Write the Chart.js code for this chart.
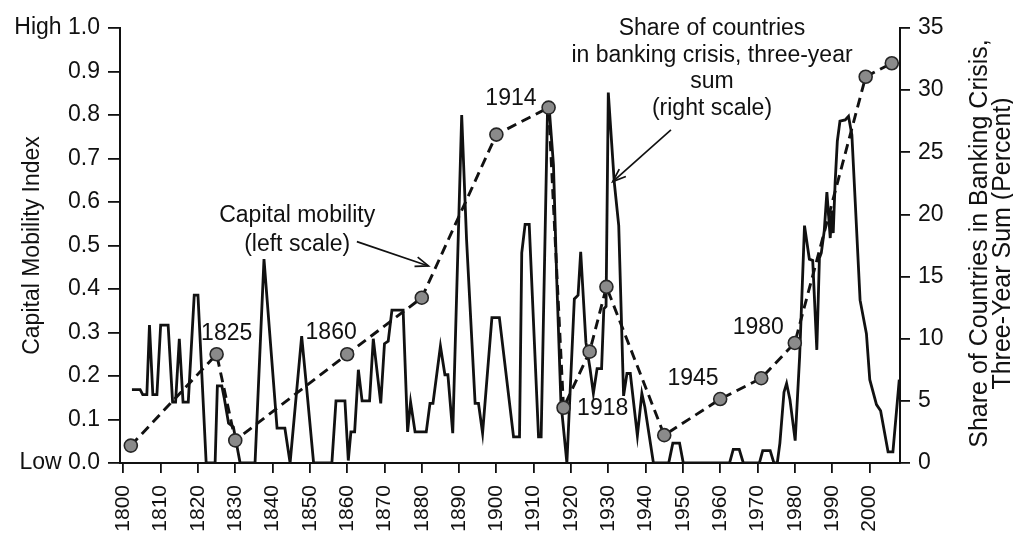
<!DOCTYPE html>
<html>
<head>
<meta charset="utf-8">
<title>Capital mobility and banking crises</title>
<script src="https://cdn.jsdelivr.net/npm/chart.js@4.4.1/dist/chart.umd.min.js"></script>
<style>
  html, body { margin: 0; padding: 0; background: #ffffff; }
  #wrap { width: 1013px; height: 534px; }
</style>
</head>
<body>
<div id="wrap"><canvas id="c" width="1013" height="534"></canvas></div>
<script>
// ---------------- DATA ----------------
// Capital mobility index (left scale, 0 = low, 1 = high)
const mobilityYears = [1802, 1825, 1830, 1860, 1880, 1900, 1914, 1918, 1925, 1929.5, 1945, 1960, 1971, 1980, 1999, 2006];
const mobilityIndex = [0.04, 0.25, 0.052, 0.25, 0.38, 0.755, 0.817, 0.127, 0.256, 0.405, 0.064, 0.147, 0.195, 0.276, 0.888, 0.919];

// Share of countries in banking crisis, three-year sum (right scale, percent)
const crisisYears = [
  1802.3, 1804.5, 1805.2, 1806.3, 1807.0, 1807.9, 1809.0, 1810.0, 1812.0, 1813.2,
  1814.0, 1815.0, 1816.0, 1817.4, 1819.0, 1820.0, 1822.2, 1824.6, 1825.2, 1826.4,
  1827.0, 1828.2, 1829.5, 1831.3, 1835.3, 1837.7, 1841.2, 1843.3, 1844.7, 1847.8,
  1849.3, 1851.0, 1855.9, 1857.0, 1859.4, 1860.3, 1861.0, 1862.0, 1863.0, 1864.0,
  1866.0, 1867.0, 1869.0, 1870.0, 1871.0, 1872.0, 1875.0, 1876.2, 1877.0, 1878.2,
  1881.2, 1882.2, 1883.0, 1885.0, 1886.2, 1887.0, 1888.3, 1890.7, 1892.0, 1894.3,
  1895.2, 1896.3, 1898.8, 1900.8, 1904.6, 1906.2, 1906.8, 1907.7, 1908.8, 1911.3,
  1912.0, 1913.7, 1914.3, 1915.3, 1916.2, 1917.3, 1918.9, 1920.9, 1921.9, 1922.6,
  1924.0, 1925.1, 1926.0, 1927.0, 1928.2, 1928.8, 1929.4, 1930.0, 1931.6, 1932.8,
  1934.1, 1935.0, 1935.9, 1937.8, 1939.0, 1939.8, 1942.1, 1946.2, 1947.3, 1949.1,
  1950.1, 1962.5, 1963.5, 1965.1, 1966.2, 1970.5, 1971.4, 1973.4, 1974.4, 1975.3,
  1976.0, 1977.1, 1977.8, 1978.7, 1980.1, 1981.3, 1982.6, 1983.9, 1984.8, 1985.9,
  1986.6, 1987.1, 1987.9, 1988.6, 1989.5, 1989.9, 1990.3, 1990.8, 1991.4, 1992.1,
  1993.5, 1994.4, 1995.3, 1996.2, 1997.5, 1999.2, 2000.1, 2001.9, 2003.0, 2005.0,
  2006.3, 2008.0
];
const crisisShare = [
  5.9, 5.9, 5.5, 5.5, 11.1, 5.5, 5.5, 11.1, 11.1, 4.9,
  4.9, 10.0, 4.9, 4.9, 13.5, 13.5, 0, 0, 6.2, 6.2,
  5.3, 3.2, 2.9, 0, 0, 16.4, 2.8, 2.8, 0, 10.2,
  5.5, 0, 0, 5.0, 5.0, 0.2, 2.5, 2.5, 7.5, 5.0,
  5.0, 10.0, 4.8, 9.6, 9.8, 12.3, 12.3, 2.5, 4.9, 2.5,
  2.5, 4.8, 4.8, 9.4, 7.1, 7.1, 2.4, 28.0, 18.0, 4.8,
  4.8, 2.4, 11.7, 11.7, 2.1, 2.1, 16.9, 19.2, 19.2, 2.1,
  2.1, 28.3, 28.0, 24.0, 14.6, 4.9, 0, 13.2, 13.5, 17.0,
  9.7, 7.6, 5.6, 7.6, 7.6, 12.4, 12.6, 29.8, 22.6, 19.1,
  5.4, 7.2, 7.2, 2.2, 5.6, 4.5, 0, 0, 1.6, 1.6,
  0, 0, 1.1, 1.1, 0, 0, 1.0, 1.0, 0, 0,
  1.6, 5.7, 6.4, 5.1, 1.8, 8.6, 19.1, 16.4, 16.3, 9.1,
  16.5, 16.9, 18.7, 21.8, 18.1, 20.3, 18.5, 22.5, 25.9, 27.5,
  27.6, 27.9, 26.4, 21.0, 13.1, 10.4, 6.7, 4.7, 4.2, 0.9,
  0.9, 6.7
];

// Tick values and labels
const xTickYears = [1800, 1810, 1820, 1830, 1840, 1850, 1860, 1870, 1880, 1890, 1900, 1910, 1920, 1930, 1940, 1950, 1960, 1970, 1980, 1990, 2000];
const leftTickValues = [0, 0.1, 0.2, 0.3, 0.4, 0.5, 0.6, 0.7, 0.8, 0.9, 1.0];
const leftTickLabels = ['Low 0.0', '0.1', '0.2', '0.3', '0.4', '0.5', '0.6', '0.7', '0.8', '0.9', 'High 1.0'];
const rightTickValues = [0, 5, 10, 15, 20, 25, 30, 35];

// Text annotations (anchored in data units: year, left-scale value)
const yearNotes = [
  { text: '1825', year: 1827.7, value: 0.297 },
  { text: '1860', year: 1855.7, value: 0.299 },
  { text: '1914', year: 1903.9, value: 0.837 },
  { text: '1918', year: 1928.5, value: 0.126 },
  { text: '1945', year: 1952.7, value: 0.195 },
  { text: '1980', year: 1970.2, value: 0.310 }
];
const mobilityNote = { lines: ['Capital mobility', '(left scale)'], year: 1846.6, value: 0.568 };
const crisisNote = { lines: ['Share of countries', 'in banking crisis, three-year', 'sum', '(right scale)'], year: 1957.8, value: 0.998 };
const mobilityArrow = { from: [1862.6, 0.509], to: [1881.8, 0.453] };
const crisisArrow = { from: [1946.8, 0.766], to: [1931.2, 0.647] };
const rightTitleLines = ['Share of Countries in Banking Crisis,', 'Three-Year Sum (Percent)'];

// ---------------- CHART ----------------
const FONT = '"Liberation Sans", Arial, Helvetica, sans-serif';
const INK = '#111111';

function drawArrow(ctx, x1, y1, x2, y2) {
  const ang = Math.atan2(y2 - y1, x2 - x1);
  const len = 14, spread = 0.36;
  ctx.beginPath();
  ctx.moveTo(x1, y1);
  ctx.lineTo(x2, y2);
  ctx.stroke();
  ctx.beginPath();
  ctx.moveTo(x2 - len * Math.cos(ang - spread), y2 - len * Math.sin(ang - spread));
  ctx.lineTo(x2, y2);
  ctx.lineTo(x2 - len * Math.cos(ang + spread), y2 - len * Math.sin(ang + spread));
  ctx.stroke();
}

const notesPlugin = {
  id: 'notes',
  afterDraw(chart) {
    const { ctx, scales } = chart;
    const x = scales.x, yL = scales.yL;
    ctx.save();
    ctx.fillStyle = INK;
    ctx.strokeStyle = INK;
    ctx.textAlign = 'center';
    ctx.textBaseline = 'middle';
    ctx.font = '23px ' + FONT;
    yearNotes.forEach(n => ctx.fillText(n.text, x.getPixelForValue(n.year), yL.getPixelForValue(n.value)));

    const lh1 = 29;
    const mx = x.getPixelForValue(mobilityNote.year), my = yL.getPixelForValue(mobilityNote.value);
    mobilityNote.lines.forEach((t, i) => ctx.fillText(t, mx, my + i * lh1));

    const lh2 = 26.5;
    const cx = x.getPixelForValue(crisisNote.year), cy = yL.getPixelForValue(crisisNote.value);
    crisisNote.lines.forEach((t, i) => ctx.fillText(t, cx, cy + i * lh2));

    ctx.lineWidth = 1.7;
    [mobilityArrow, crisisArrow].forEach(a => drawArrow(ctx,
      x.getPixelForValue(a.from[0]), yL.getPixelForValue(a.from[1]),
      x.getPixelForValue(a.to[0]), yL.getPixelForValue(a.to[1])));

    // right axis title (reads bottom-to-top)
    const yR = scales.yR;
    const midY = (yR.top + yR.bottom) / 2 - 2;
    ctx.font = '25px ' + FONT;
    ctx.textBaseline = 'alphabetic';
    ctx.translate(yR.right - 26, midY);
    ctx.rotate(-Math.PI / 2);
    ctx.fillText(rightTitleLines[0], 0, 0);
    ctx.fillText(rightTitleLines[1], 0, 23);
    ctx.restore();
  }
};

new Chart(document.getElementById('c'), {
  type: 'line',
  data: {
    datasets: [
      {
        label: 'Capital mobility (left scale)',
        data: mobilityYears.map((yr, i) => ({ x: yr, y: mobilityIndex[i] })),
        yAxisID: 'yL',
        borderColor: INK,
        borderWidth: 2.9,
        borderDash: [10, 6],
        pointRadius: 6.5,
        pointBackgroundColor: '#8a8a8a',
        pointBorderColor: '#262626',
        pointBorderWidth: 1.6,
        tension: 0,
        fill: false
      },
      {
        label: 'Share of countries in banking crisis, three-year sum (right scale)',
        data: crisisYears.map((yr, i) => ({ x: yr, y: crisisShare[i] })),
        yAxisID: 'yR',
        borderColor: INK,
        borderWidth: 2.8,
        pointRadius: 0,
        tension: 0,
        fill: false
      }
    ]
  },
  options: {
    responsive: false,
    animation: false,
    events: [],
    layout: { padding: { top: 28, left: 0, right: 0, bottom: 0 } },
    plugins: { legend: { display: false }, tooltip: { enabled: false }, title: { display: false } },
    scales: {
      x: {
        type: 'linear',
        position: 'bottom',
        min: 1799.1,
        max: 2008.2,
        afterBuildTicks: s => { s.ticks = xTickYears.map(v => ({ value: v })); },
        afterFit: s => { s.height = 71; },
        ticks: {
          autoSkip: false,
          minRotation: 90,
          maxRotation: 90,
          padding: 12,
          color: INK,
          font: { size: 21, family: FONT },
          callback: v => String(v)
        },
        grid: { display: true, drawOnChartArea: false, drawTicks: true, tickLength: 10, color: INK, lineWidth: 1.8 },
        border: { display: true, color: INK, width: 2 }
      },
      yL: {
        type: 'linear',
        position: 'left',
        min: 0,
        max: 1,
        afterBuildTicks: s => { s.ticks = leftTickValues.map(v => ({ value: v })); },
        afterFit: s => { s.width = 120; },
        ticks: {
          padding: 8,
          color: INK,
          font: { size: 23, family: FONT },
          callback: (v, i) => leftTickLabels[i]
        },
        grid: { display: true, drawOnChartArea: false, drawTicks: true, tickLength: 12, color: INK, lineWidth: 1.8 },
        border: { display: true, color: INK, width: 2 },
        title: { display: true, text: 'Capital Mobility Index', color: INK, font: { size: 23, family: FONT }, padding: { top: 19, bottom: 0 } }
      },
      yR: {
        type: 'linear',
        position: 'right',
        min: 0,
        max: 35,
        afterBuildTicks: s => { s.ticks = rightTickValues.map(v => ({ value: v })); },
        afterFit: s => { s.width = 113; },
        ticks: {
          padding: 8,
          color: INK,
          font: { size: 23, family: FONT },
          callback: v => String(v)
        },
        grid: { display: true, drawOnChartArea: false, drawTicks: true, tickLength: 10, color: INK, lineWidth: 1.8 },
        border: { display: true, color: INK, width: 2 }
      }
    }
  },
  plugins: [notesPlugin]
});
</script>
</body>
</html>
